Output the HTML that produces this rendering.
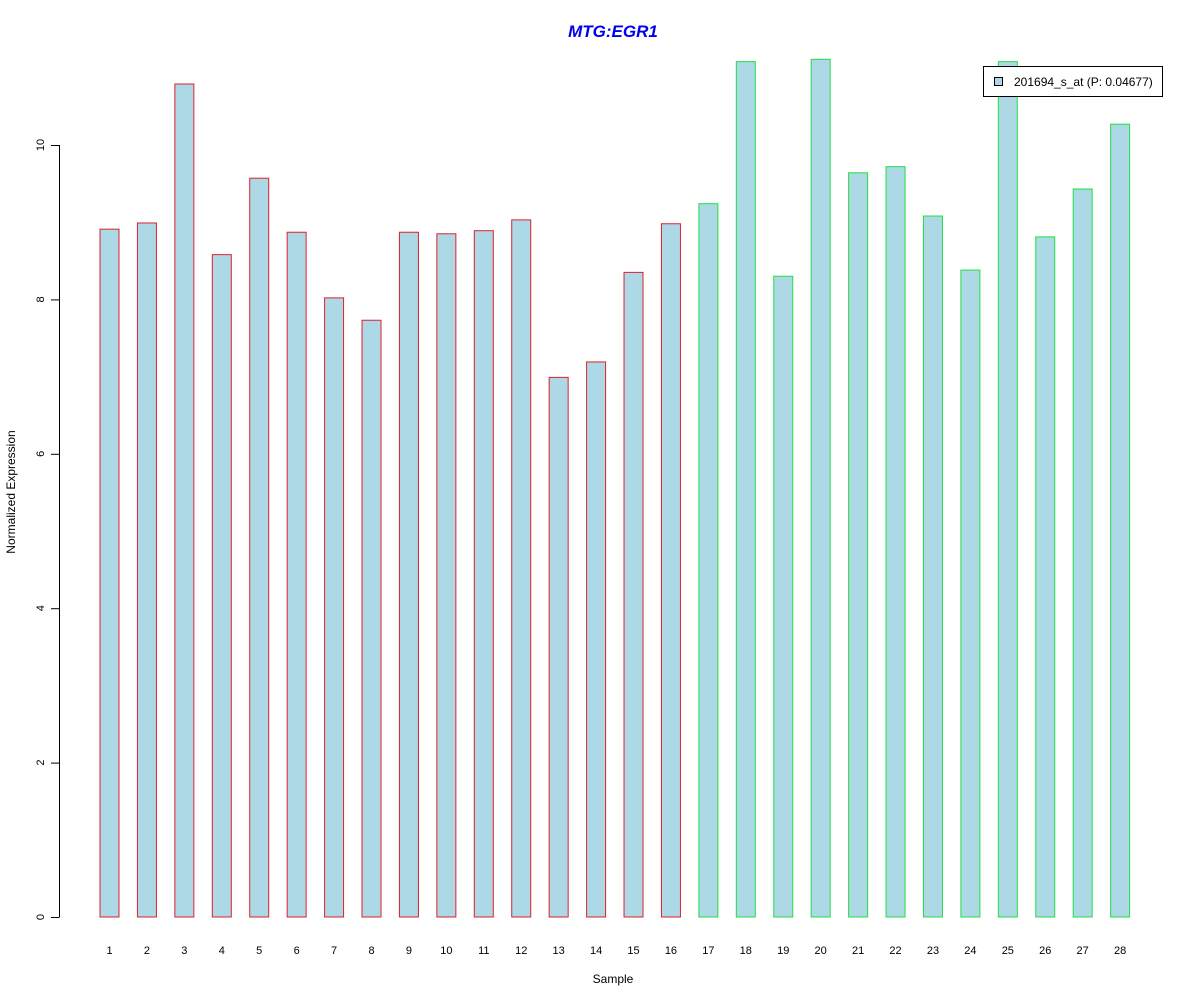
<!DOCTYPE html>
<html><head><meta charset="utf-8"><style>body{margin:0;background:#fff}svg{display:block;font-family:"Liberation Sans",Arial,sans-serif}</style></head>
<body>
<svg id="chart" width="1200" height="1000" viewBox="0 0 1200 1000">
<rect width="1200" height="1000" fill="#fff"/>
<text x="613" y="37" text-anchor="middle" font-size="17" font-weight="bold" font-style="italic" fill="#0000ee">MTG:EGR1</text>
<text x="613" y="983" text-anchor="middle" font-size="12">Sample</text>
<text transform="translate(15,492) rotate(-90)" text-anchor="middle" font-size="12">Normalized Expression</text>
<g id="bars"></g><g id="yaxis"></g><g id="xlabels"></g>
<g>
<rect x="983.5" y="66.5" width="179" height="30" fill="#fff" stroke="#000"/>
<rect x="994.5" y="77.5" width="8" height="8" fill="#add8e6" stroke="#000"/>
<text x="1014" y="86" font-size="12">201694_s_at (P: 0.04677)</text>
</g>
</svg>
<script>
const samples=[1,2,3,4,5,6,7,8,9,10,11,12,13,14,15,16,17,18,19,20,21,22,23,24,25,26,27,28];
const values=[8.91,8.99,10.79,8.58,9.57,8.87,8.02,7.73,8.87,8.85,8.89,9.03,6.99,7.19,8.35,8.98,9.24,11.08,8.30,11.11,9.64,9.72,9.08,8.38,11.08,8.81,9.43,10.27];
const groups=["a","a","a","a","a","a","a","a","a","a","a","a","a","a","a","a","b","b","b","b","b","b","b","b","b","b","b","b"];
const yTicks=[0,2,4,6,8,10];
const NS="http://www.w3.org/2000/svg";
const y=v=>917-v*77.2;
const xc=i=>109.5+i*37.43;
const mk=(t,a,p)=>{const e=document.createElementNS(NS,t);for(const k in a)e.setAttribute(k,a[k]);p.appendChild(e);return e;};
const bars=document.getElementById('bars');
values.forEach((v,i)=>{
 const r=mk('rect',{x:xc(i)-9.5,y:y(v),width:19,height:917-y(v),fill:'#add8e6',stroke:groups[i]==='a'?'#e0202a':'#20e040'},bars);
 
 
 const t=mk('text',{x:xc(i),y:954,'text-anchor':'middle','font-size':11},document.getElementById('xlabels'));
 
 
 t.textContent=samples[i];
});
const ya=document.getElementById('yaxis');


mk('line',{x1:59.5,x2:59.5,y1:y(yTicks[0]),y2:y(yTicks[yTicks.length-1]),stroke:'#000'},ya);
yTicks.forEach(v=>{
 mk('line',{x1:51,x2:59.5,y1:y(v)+0.5,y2:y(v)+0.5,stroke:'#000'},ya);
 const t=mk('text',{transform:`translate(44,${y(v)}) rotate(-90)`,'text-anchor':'middle','font-size':11},ya);
 
 
 t.textContent=v;
});
</script>
</body></html>
